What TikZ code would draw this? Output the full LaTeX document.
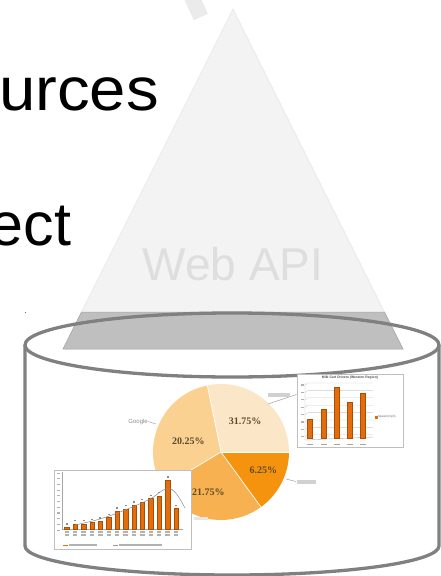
\documentclass[tikz,border=0pt]{standalone}
\usepackage{fontspec}
\setmainfont{Liberation Sans}
\newfontfamily\pctfont{Liberation Serif}
\definecolor{cylline}{HTML}{808080}
\definecolor{trifill}{HTML}{F3F3F3}
\definecolor{triedge}{HTML}{E6E6E6}
\definecolor{bandfill}{HTML}{BFBFBF}
\definecolor{bandedge}{HTML}{A6A6A6}
\definecolor{apitext}{HTML}{DEDEDE}
\definecolor{strokegray}{HTML}{EBEBEB}
\definecolor{pieA}{HTML}{FCE6C8}
\definecolor{pieB}{HTML}{FAD190}
\definecolor{pieC}{HTML}{F8B150}
\definecolor{pieD}{HTML}{F5930F}
\definecolor{pcttext}{HTML}{5C4A2C}
\definecolor{barfill}{HTML}{E46C0A}
\definecolor{baredge}{HTML}{A84E07}
\begin{document}
\begin{tikzpicture}[x=1pt,y=-1pt,
  cyl/.style={draw=cylline, line width=3.3pt},
  chartbox/.style={fill=white, draw=black!25, line width=0.5pt},
  bar/.style={fill=barfill, draw=baredge, line width=0.3pt},
  faint/.style={fill=black!18},
  leader/.style={draw=black!35, line width=0.5pt},
  pct/.style={font=\pctfont\bfseries\fontsize{10}{10}\selectfont, text=pcttext, inner sep=0pt},
  bigtext/.style={font=\fontsize{61}{61}\selectfont, inner sep=0pt}]
\useasboundingbox (0,0) rectangle (440,576);

% light stroke entering from the top
\draw[strokegray, line width=15.6pt] (191.7,-3) -- (200.85,17);

% slide text running off the left edge
\node[bigtext, anchor=base east, xscale=1.07, transform shape] (res) at (159,110.7) {urces};
\node[bigtext, anchor=base east] (obj) at (71.5,245) {ect};

% Web API pyramid
\coordinate (apex) at (233,9);
\coordinate (bl) at (63,349);
\coordinate (br) at (403,349);
\filldraw[fill=trifill, draw=triedge, line width=0.6pt] (apex) -- (br) -- (bl) -- cycle;
\filldraw[fill=bandfill, draw=bandedge, line width=0.5pt] (81.5,312) -- (384.5,312) -- (br) -- (bl) -- cycle;
\node[font=\fontsize{46}{46}\selectfont, text=apitext, anchor=base, inner sep=0pt] (api) at (233,280) {Web API};

% small mark
\fill[black!55] (25.5,312.5) circle (0.7pt);

% data store cylinder
\draw[cyl] (232,345) ellipse [x radius=207pt, y radius=32pt];
\draw[cyl] (25,345) -- (25,546) arc[start angle=180, end angle=360, x radius=207pt, y radius=29pt] -- (439,345);

% pie chart
\coordinate (pc) at (221,452);
\fill[pieA] (pc) -- ++(0:68pt) arc[start angle=0, end angle=101.6, radius=68pt] -- cycle;
\fill[pieB] (pc) -- ++(101.6:68pt) arc[start angle=101.6, end angle=211, radius=68pt] -- cycle;
\fill[pieC] (pc) -- ++(211:68pt) arc[start angle=211, end angle=306, radius=68pt] -- cycle;
\fill[pieD] (pc) -- ++(306:68pt) arc[start angle=306, end angle=360, radius=68pt] -- cycle;
\foreach \a in {0,101.6,211,306} \draw[white, line width=0.7pt] (pc) -- ++(\a:68pt);
\node[pct] (p1) at (245,421.7) {31.75\%};
\node[pct] (p2) at (188.3,441.7) {20.25\%};
\node[pct] (p3) at (263.3,470.7) {6.25\%};
\node[pct] (p4) at (208.3,492.7) {21.75\%};

% pie labels and leaders
\node[font=\fontsize{6}{6}\selectfont, text=black!45, anchor=east, inner sep=0pt] (lg) at (148,421.5) {Google};
\coordinate (lgp) at (156,424);
\draw[leader] (lg.east) -- (lgp);
\coordinate (ltr) at (268,404);
\coordinate (ltrend) at (296.5,394.5);
\draw[leader] (ltr) -- (ltrend);
\fill[faint] (268,393) rectangle (290,396.5);
\coordinate (lbr) at (286,479);
\coordinate (lbrend) at (296,481.5);
\draw[leader] (lbr) -- (lbrend);
\fill[faint] (297,480) rectangle (316,483.5);
\fill[black!10] (194,516.5) rectangle (208,519.5);

% bar chart, upper right
\node[chartbox, minimum width=106pt, minimum height=73pt, inner sep=0pt] (rc) at (350,410.5) {};
\node[font=\bfseries\fontsize{3.4}{3.4}\selectfont, text=black!70, inner sep=0pt] (rct) at (350,377.8) {Milk Cart Drivers (Western Region)};
\draw[black!30, line width=0.4pt] (305,383) -- (305,440) -- (373,437);
\foreach \k in {0,...,7} {
  \draw[black!20, line width=0.35pt] (305,{385+7.4*\k}) -- (308,{383+7.4*\k}) -- (373,{383+7.4*\k});
  \fill[black!30] (301,{384.3+7.4*\k}) rectangle (303.5,{385.5+7.4*\k});
}
\foreach \x/\t in {310/419.3, 324/409, 337/386.7, 350/401.7, 363/393.3} {
  \draw[bar] ({\x-2.6},438.3) rectangle ({\x+2.6},\t);
  \fill[black!35] ({\x-3},443.5) rectangle ({\x+3},445);
}
\fill[barfill] (374.5,415.5) rectangle (377.5,418.5);
\node[font=\fontsize{3}{3}\selectfont, text=black!60, anchor=west, inner sep=0pt] (rcl) at (378,417) {Speed (mph)};

% bar chart, lower left
\node[chartbox, minimum width=137pt, minimum height=79pt, inner sep=0pt] (lc) at (122.5,509.5) {};
\draw[black!35, line width=0.4pt] (61.7,472) -- (61.7,529.3) -- (183,529.3);
\foreach \k in {0,...,10} \fill[black!30] (57,{472.5+5.7*\k}) rectangle (60,{473.6+5.7*\k});
\foreach \i/\t in {0/527,1/523.7,2/523.7,3/522.3,4/521,5/517.3,6/511,7/508.7,8/505,9/502.3,10/498.3,11/495.7,12/480,13/508.3} {
  \draw[bar] ({66.7+8.4*\i-2.15},529.3) rectangle ({66.7+8.4*\i+2.15},\t);
  \fill[black!45] ({66.7+8.4*\i-1},{\t-3.8}) rectangle ({66.7+8.4*\i+1},{\t-2.4});
  \fill[black!30] ({66.7+8.4*\i-2.2},531.3) rectangle ({66.7+8.4*\i+2.2},532.6);
  \fill[black!30] ({66.7+8.4*\i-2.2},534.3) rectangle ({66.7+8.4*\i+2.2},535.6);
}
\draw[black!45, line width=0.5pt] plot[smooth, tension=0.6] coordinates {(75,525) (100,519) (125,510) (150,499) (160,492) (167,488.5) (172,489.5) (178,496) (185,508)};
\draw[barfill, line width=1pt] (63.3,545) -- (68.3,545);
\fill[black!30] (69,544.4) rectangle (96.7,545.8);
\draw[black!40, line width=0.5pt] (113,545) -- (118,545);
\fill[black!30] (119,544.4) rectangle (161.7,545.8);
\end{tikzpicture}
\end{document}
